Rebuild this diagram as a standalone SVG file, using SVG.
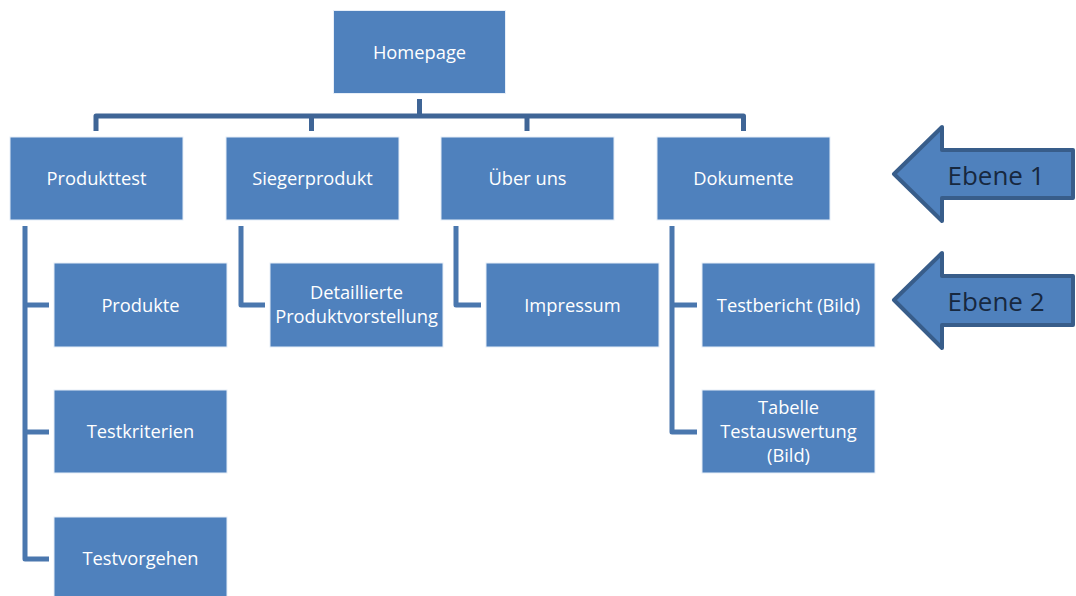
<svg xmlns="http://www.w3.org/2000/svg" width="1076" height="596" viewBox="0 0 1076 596">
<style>
.box{fill:#4f81bd;stroke:#e6eef8;stroke-width:1}
.t{font-family:"Open Sans","Liberation Sans",sans-serif;font-size:18.3px;fill:#ffffff;text-anchor:middle}
.bus{fill:none;stroke:#3f6596;stroke-width:5;stroke-linejoin:round;stroke-linecap:butt}
.sub{fill:none;stroke:#4a77ae;stroke-width:5;stroke-linejoin:round;stroke-linecap:butt}
.arr{fill:#4f81bd;stroke:#385d8a;stroke-width:4;stroke-linejoin:round}
.at{font-family:"Open Sans","Liberation Sans",sans-serif;font-size:26px;fill:#17283f;text-anchor:middle}
</style>
<rect width="1076" height="596" fill="#ffffff"/>
<g id="connectors">
<path class="bus" d="M419.5 99 V116"/>
<path class="bus" d="M96 131 V116 H743.5 V131"/>
<path class="bus" d="M311.5 116 V131"/>
<path class="bus" d="M527 116 V131"/>
<path class="sub" d="M25 226 V559 H49"/>
<path class="sub" d="M25 305 H49"/>
<path class="sub" d="M25 432 H49"/>
<path class="sub" d="M241 226 V305 H265"/>
<path class="sub" d="M456 226 V305 H481"/>
<path class="sub" d="M672 226 V432 H697"/>
<path class="sub" d="M672 305 H697"/>
</g>
<g id="homepage"><rect class="box" x="333.5" y="10.5" width="172" height="83"/><text class="t" x="419.5" y="58.5">Homepage</text></g>
<g id="produkttest"><rect class="box" x="10" y="137" width="173" height="83"/><text class="t" x="96.5" y="185">Produkttest</text></g>
<g id="siegerprodukt"><rect class="box" x="226" y="137" width="173" height="83"/><text class="t" x="312.5" y="185">Siegerprodukt</text></g>
<g id="ueber-uns"><rect class="box" x="441" y="137" width="173" height="83"/><text class="t" x="527.5" y="185">Über uns</text></g>
<g id="dokumente"><rect class="box" x="657" y="137" width="173" height="83"/><text class="t" x="743.5" y="185">Dokumente</text></g>
<g id="produkte"><rect class="box" x="54" y="263" width="173" height="84"/><text class="t" x="140.5" y="311.5">Produkte</text></g>
<g id="testkriterien"><rect class="box" x="54" y="390" width="173" height="83"/><text class="t" x="140.5" y="438">Testkriterien</text></g>
<g id="testvorgehen"><rect class="box" x="54" y="517" width="173" height="84"/><text class="t" x="140.5" y="565">Testvorgehen</text></g>
<g id="detaillierte"><rect class="box" x="270" y="263" width="173" height="84"/><text class="t" x="356.5" y="299">Detaillierte</text><text class="t" x="356.5" y="323">Produktvorstellung</text></g>
<g id="impressum"><rect class="box" x="486" y="263" width="173" height="84"/><text class="t" x="572.5" y="311.5">Impressum</text></g>
<g id="testbericht"><rect class="box" x="702" y="263" width="173" height="84"/><text class="t" x="788.5" y="311.5">Testbericht (Bild)</text></g>
<g id="tabelle"><rect class="box" x="702" y="390" width="173" height="83"/><text class="t" x="788.5" y="414">Tabelle</text><text class="t" x="788.5" y="438">Testauswertung</text><text class="t" x="788.5" y="461.5">(Bild)</text></g>
<g id="ebene1"><path class="arr" d="M894 174 L942 127 V150 H1073 V198 H942 V221 Z"/><text class="at" x="996" y="185">Ebene 1</text></g>
<g id="ebene2"><path class="arr" d="M894 300 L942 253 V276 H1073 V325 H942 V348 Z"/><text class="at" x="996" y="311">Ebene 2</text></g>
</svg>
